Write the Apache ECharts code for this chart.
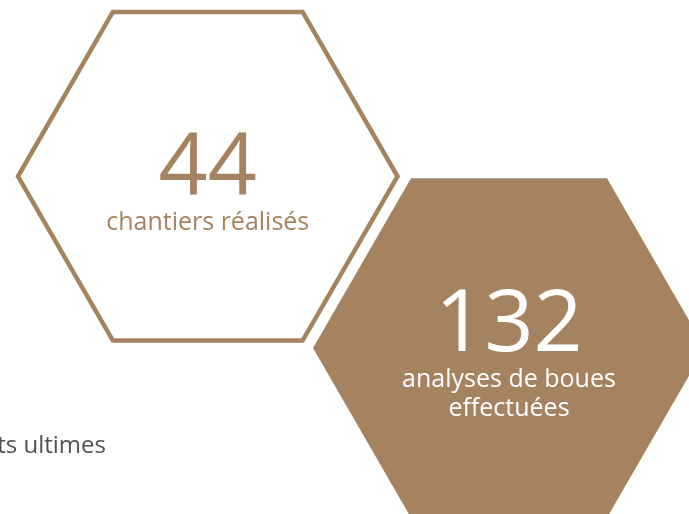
<!DOCTYPE html>
<html><head><meta charset="utf-8">
<script src="https://cdn.jsdelivr.net/npm/echarts@6/dist/echarts.min.js"></script>
<style>html,body{margin:0;padding:0;background:#fff}#c{width:689px;height:514px}</style>
</head><body><div id="c"></div>
<script>
// Data
const values = [44, 132];
const labels = ['chantiers réalisés', 'analyses de boues\neffectuées'];
const sideText = 'ts ultimes';

// Layout (pixel space of the hidden axes)
const layout = [
  {cx: 207.75, cy: 176.25, s: 189.75, filled: false, numY: 169, labY: 223},
  {cx: 509, cy: 348, s: 196, filled: true, numY: 326, labY: 394}
];
const BROWN = '#a68360';
const FONT = '"Open Sans", sans-serif';

const chart = echarts.init(document.getElementById('c'), null, {renderer: 'canvas'});
chart.setOption({
  animation: false,
  grid: {left: 0, right: 0, top: 0, bottom: 0},
  xAxis: {type: 'value', min: 0, max: 689, show: false},
  yAxis: {type: 'value', min: 0, max: 514, inverse: true, show: false},
  series: [{
    type: 'custom',
    coordinateSystem: 'cartesian2d',
    clip: false,
    data: values.map((v, i) => [layout[i].cx, layout[i].cy, v, i]),
    renderItem: function (params, api) {
      const i = api.value(3);
      const L = layout[i];
      const c = api.coord([L.cx, L.cy]);
      const edge = api.coord([L.cx + L.s, L.cy]);
      const s = edge[0] - c[0];
      const pts = [];
      for (let k = 0; k < 6; k++) {
        const a = Math.PI / 3 * k;
        pts.push([c[0] + s * Math.cos(a), c[1] + s * Math.sin(a)]);
      }
      const numPos = api.coord([L.cx, L.numY]);
      const labPos = api.coord([L.cx, L.labY]);
      const txtColor = L.filled ? '#ffffff' : BROWN;
      return {
        type: 'group',
        children: [
          {
            type: 'polygon',
            shape: {points: pts},
            style: L.filled ? {fill: BROWN, stroke: null} : {fill: null, stroke: BROWN, lineWidth: 4.5, lineJoin: 'miter'}
          },
          {
            type: 'text',
            x: numPos[0], y: numPos[1],
            style: {text: String(api.value(2)), fill: txtColor, font: '400 86px ' + FONT, align: 'center', verticalAlign: 'middle'}
          },
          {
            type: 'text',
            x: labPos[0], y: labPos[1],
            style: {text: labels[i], fill: txtColor, font: '400 25px ' + FONT, align: 'center', verticalAlign: 'middle', lineHeight: 29}
          }
        ]
      };
    }
  }, {
    type: 'custom',
    coordinateSystem: 'cartesian2d',
    clip: false,
    data: [[106, 446]],
    renderItem: function (params, api) {
      const p = api.coord([api.value(0), api.value(1)]);
      return {type: 'text', x: p[0], y: p[1], style: {text: sideText, fill: '#505050', font: '400 24px ' + FONT, align: 'right', verticalAlign: 'middle'}};
    }
  }]
});
</script></body></html>
